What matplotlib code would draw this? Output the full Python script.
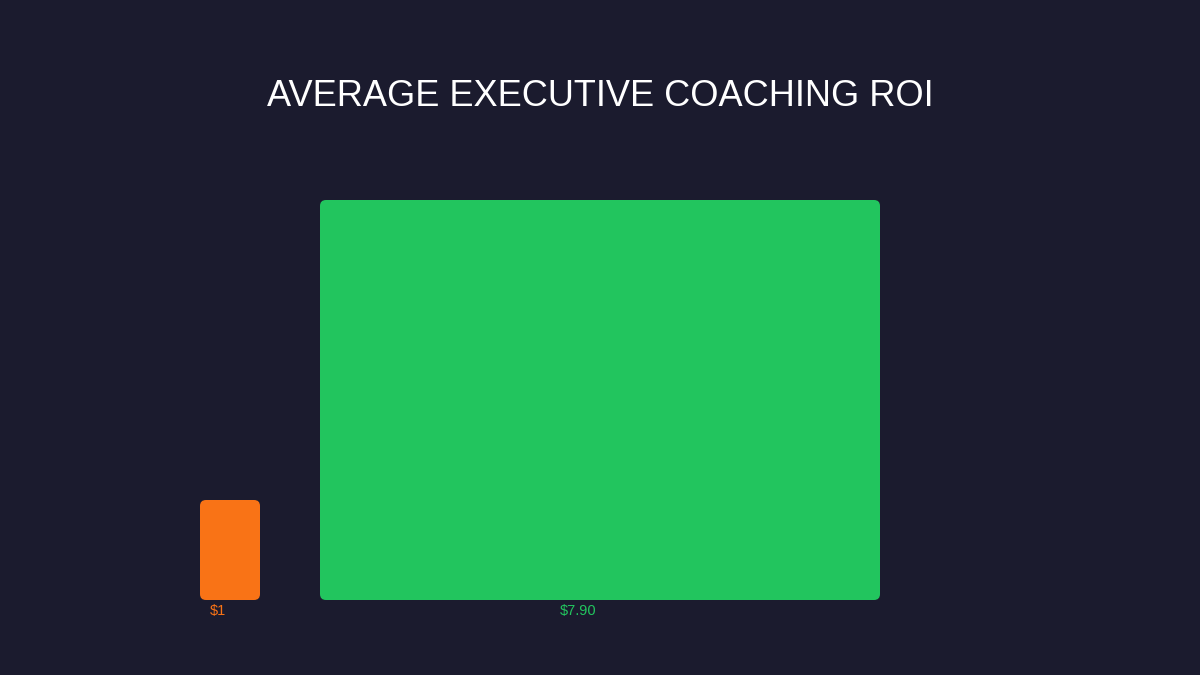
import matplotlib.pyplot as plt
from matplotlib.patches import FancyBboxPatch
import numpy as np

# data
labels = ["$1", "$7.90"]
values = [1.0, 7.9]
colors = ["#f97316", "#22c55e"]

BG = "#1b1b2e"
TITLE = "AVERAGE EXECUTIVE COACHING ROI"

plt.rcParams['font.family'] = ['Liberation Sans', 'DejaVu Sans']

fig = plt.figure(figsize=(12, 6.75), dpi=100)
fig.patch.set_facecolor(BG)
ax = fig.add_axes([0, 0, 1, 1])
ax.set_facecolor(BG)
ax.set_xlim(0, 1200)
ax.set_ylim(675, 0)
ax.axis("off")

# linear scales for bar width and height (value -> pixels)
vmin, vmax = min(values), max(values)
def width_scale(v):
    return np.interp(v, [vmin, vmax], [60, 560])

def height_scale(v):
    return np.interp(v, [vmin, vmax], [100, 400])

baseline = 600
x = 200
gap = 60
for lab, val, col in zip(labels, values, colors):
    w = width_scale(val)
    h = height_scale(val)
    box = FancyBboxPatch((x, baseline - h), w, h,
                         boxstyle="round,pad=0,rounding_size=6",
                         facecolor=col, edgecolor="none")
    ax.add_patch(box)
    # value label under the bar
    ax.text(x + w / 2 - 4, baseline + 11.5, lab, color=col, fontsize=10.5,
            ha="right", va="center")
    x += w + gap

ax.text(600, 96, TITLE, color="white", fontsize=26, ha="center", va="center")

fig.savefig("out.png", dpi=100, facecolor=BG)
